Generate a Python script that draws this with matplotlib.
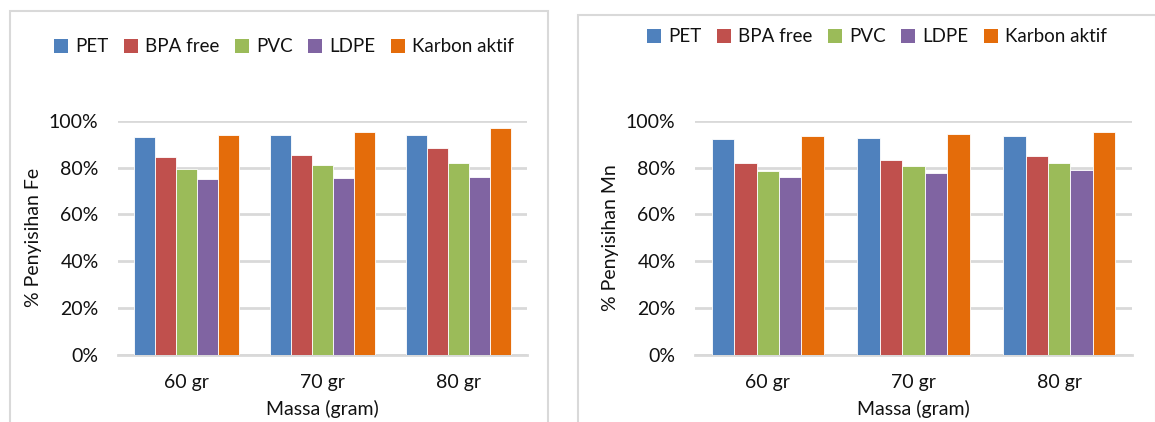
import matplotlib
matplotlib.use("Agg")
import matplotlib.pyplot as plt
from matplotlib.patches import Rectangle, Patch
from matplotlib.ticker import PercentFormatter
import numpy as np

plt.rcParams['font.family'] = ['Lato', 'DejaVu Sans']

categories = ["60 gr", "70 gr", "80 gr"]
series = ["PET", "BPA free", "PVC", "LDPE", "Karbon aktif"]
colors = ["#4F81BD", "#C0504D", "#9BBB59", "#8064A2", "#E46C0A"]

# Removal efficiency (%) for Fe
fe_pet = [92.9, 93.8, 94.1]
fe_bpa = [84.6, 85.2, 88.4]
fe_pvc = [79.2, 81.2, 81.9]
fe_ldpe = [75.2, 75.4, 75.8]
fe_karbon = [93.8, 95.0, 96.8]

# Removal efficiency (%) for Mn
mn_pet = [92.1, 92.6, 93.3]
mn_bpa = [81.8, 83.1, 85.0]
mn_pvc = [78.5, 80.6, 82.0]
mn_ldpe = [75.9, 77.5, 78.9]
mn_karbon = [93.4, 94.4, 95.0]

yticks = [0, 20, 40, 60, 80, 100]

W, H = 1155, 422
fig = plt.figure(figsize=(W / 100, H / 100), dpi=100)

text_color = "#111111"
grid_color = "#d9d9d9"
fs = 14


def px(x0, y0, x1, y1):
    return [x0 / W, 1 - y1 / H, (x1 - x0) / W, (y1 - y0) / H]


def draw_chart(rect, data, ylabel):
    ax = fig.add_axes(rect)
    n = len(series)
    gap = 1.5
    bw = 1.0 / (n + gap)
    x = np.arange(len(categories))
    for i, (vals, c) in enumerate(zip(data, colors)):
        off = (i - (n - 1) / 2) * bw
        ax.bar(x + off, vals, width=bw, color=c, edgecolor="#ffffff",
               linewidth=0.6, zorder=3)
    ax.set_xlim(-0.5, len(categories) - 0.5)
    ax.set_ylim(0, 100)
    ax.set_yticks(yticks)
    ax.yaxis.set_major_formatter(PercentFormatter(decimals=0))
    ax.set_xticks(x)
    ax.set_xticklabels(categories)
    ax.grid(axis="y", color=grid_color, linewidth=2, zorder=0)
    for s in ["top", "right", "left"]:
        ax.spines[s].set_visible(False)
    ax.spines["bottom"].set_color(grid_color)
    ax.spines["bottom"].set_linewidth(2)
    ax.tick_params(axis="both", length=0, labelsize=fs, colors=text_color)
    ax.tick_params(axis="x", pad=14)
    ax.tick_params(axis="y", pad=14)
    ax.set_ylabel(ylabel, fontsize=fs, color=text_color, labelpad=5)
    ax.set_xlabel("Massa (gram)", fontsize=fs, color=text_color, labelpad=6)
    return ax


fe = [fe_pet, fe_bpa, fe_pvc, fe_ldpe, fe_karbon]
mn = [mn_pet, mn_bpa, mn_pvc, mn_ldpe, mn_karbon]

draw_chart(px(118, 120.7, 527, 355), fe, "% Penyisihan Fe")
draw_chart(px(695, 120.7, 1132, 355), mn, "% Penyisihan Mn")

# chart area borders
fig.patches.append(Rectangle((10 / W, -0.1), (548 - 10) / W, 1 - 11 / H + 0.1,
                             transform=fig.transFigure, fill=False,
                             edgecolor=grid_color, linewidth=1.5))
fig.patches.append(Rectangle((578 / W, -0.1), 0.5, 1 - 15 / H + 0.1,
                             transform=fig.transFigure, fill=False,
                             edgecolor=grid_color, linewidth=1.5))

handles = [Patch(facecolor=c, edgecolor="none", label=s) for s, c in zip(series, colors)]
for cx, cy in [(284, 47), (877, 37)]:
    fig.legend(handles=handles, loc="center", bbox_to_anchor=(cx / W, 1 - cy / H),
               ncol=5, frameon=False, fontsize=13.5, handlelength=0.75,
               handleheight=0.75, handletextpad=0.4, columnspacing=0.8,
               labelcolor=text_color)

fig.savefig("out.png", dpi=100, facecolor="white")
